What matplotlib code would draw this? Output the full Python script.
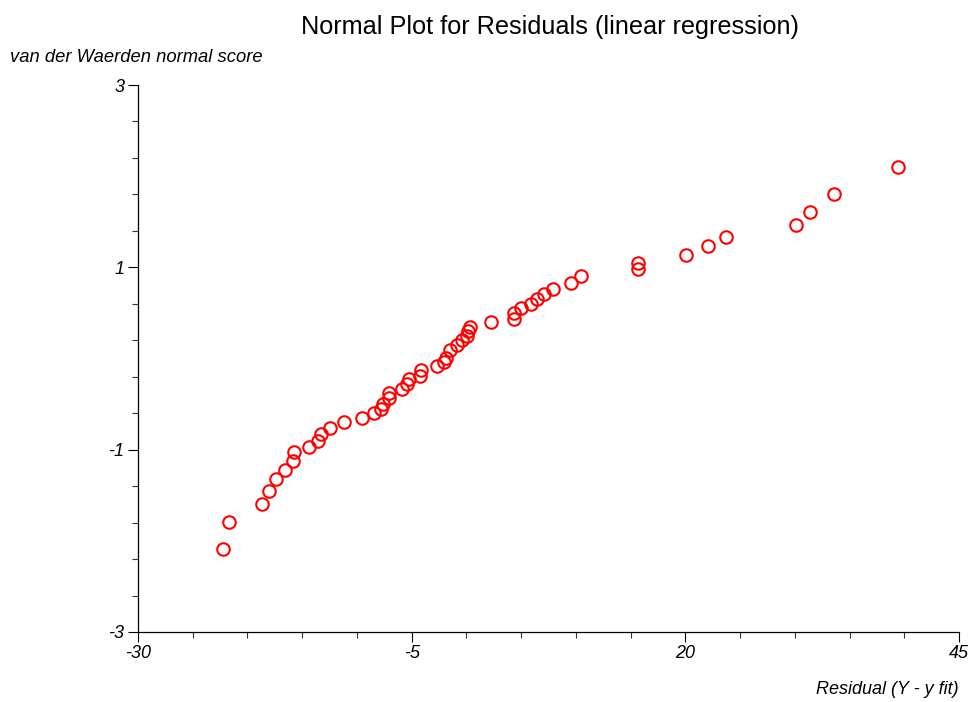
import matplotlib
matplotlib.use("Agg")
import matplotlib.pyplot as plt
import numpy as np

plt.rcParams['font.family'] = ['Liberation Sans', 'DejaVu Sans']

residual = [-22.24, -21.69, -18.67, -18.03, -17.39, -16.57, -15.84, -15.75, -14.38, -13.56,
            -13.28, -12.46, -11.18, -9.54, -8.44, -7.80, -7.62, -7.07, -7.07, -5.88,
            -5.43, -5.24, -4.24, -4.15, -2.69, -2.05, -1.87, -1.50, -0.86, -0.40,
            0.05, 0.15, 0.33, 2.25, 4.35, 4.35, 4.99, 5.90, 6.45, 7.09,
            7.91, 9.55, 10.47, 15.68, 15.68, 20.06, 22.07, 23.71, 30.11, 31.39,
            33.58, 39.43]
normal_score = [-2.09, -1.79, -1.60, -1.45, -1.32, -1.22, -1.12, -1.03, -0.97, -0.90,
                -0.83, -0.76, -0.70, -0.65, -0.60, -0.55, -0.50, -0.43, -0.38, -0.33,
                -0.28, -0.23, -0.19, -0.13, -0.08, -0.04, 0.01, 0.09, 0.15, 0.20,
                0.25, 0.30, 0.35, 0.40, 0.50, 0.43, 0.55, 0.60, 0.65, 0.71,
                0.76, 0.83, 0.90, 1.05, 0.98, 1.14, 1.23, 1.33, 1.46, 1.61,
                1.80, 2.10]

x_major = [-30, -5, 20, 45]
x_minor = list(range(-25, 45, 5))
y_major = [-3, -1, 1, 3]
y_minor = [-2.6, -2.2, -1.8, -1.4, -0.6, -0.2, 0.2, 0.6, 1.4, 1.8, 2.2, 2.6]

fig = plt.figure(figsize=(9.74, 7.02), dpi=100)
ax = fig.add_axes([138/974, 1-632/702, (959-138)/974, (632-85)/702])

ax.plot(residual, normal_score, linestyle='none', marker='o', markersize=9,
        markerfacecolor='none', markeredgecolor='#ff0000', markeredgewidth=1.5, clip_on=False)

ax.set_xlim(-30, 45)
ax.set_ylim(-3, 3)
ax.set_xticks(x_major)
ax.set_xticks(x_minor, minor=True)
ax.set_yticks(y_major)
ax.set_yticks(y_minor, minor=True)
ax.set_xticklabels([str(v) for v in x_major], fontstyle='italic', fontsize=13)
ax.set_yticklabels([str(v) for v in y_major], fontstyle='italic', fontsize=13)
ax.tick_params(axis='both', which='major', direction='out', length=7, width=0.8, color='black')
ax.tick_params(axis='both', which='minor', direction='out', length=4.5, width=0.8, color='#333333')
ax.tick_params(axis='x', which='major', pad=2)
ax.tick_params(axis='y', which='major', pad=3)

for s in ['top', 'right']:
    ax.spines[s].set_visible(False)
for s in ['left', 'bottom']:
    ax.spines[s].set_linewidth(0.9)

fig.text(550/974, 1-27/702, 'Normal Plot for Residuals (linear regression)',
         ha='center', va='center', fontsize=18.2)
fig.text(10/974, 1-58/702, 'van der Waerden normal score', ha='left', va='center',
         fontsize=13.2, fontstyle='italic')
fig.text(959/974, 1-690/702, 'Residual (Y - y fit)', ha='right', va='center',
         fontsize=13, fontstyle='italic')

fig.savefig('out.png', dpi=100)
